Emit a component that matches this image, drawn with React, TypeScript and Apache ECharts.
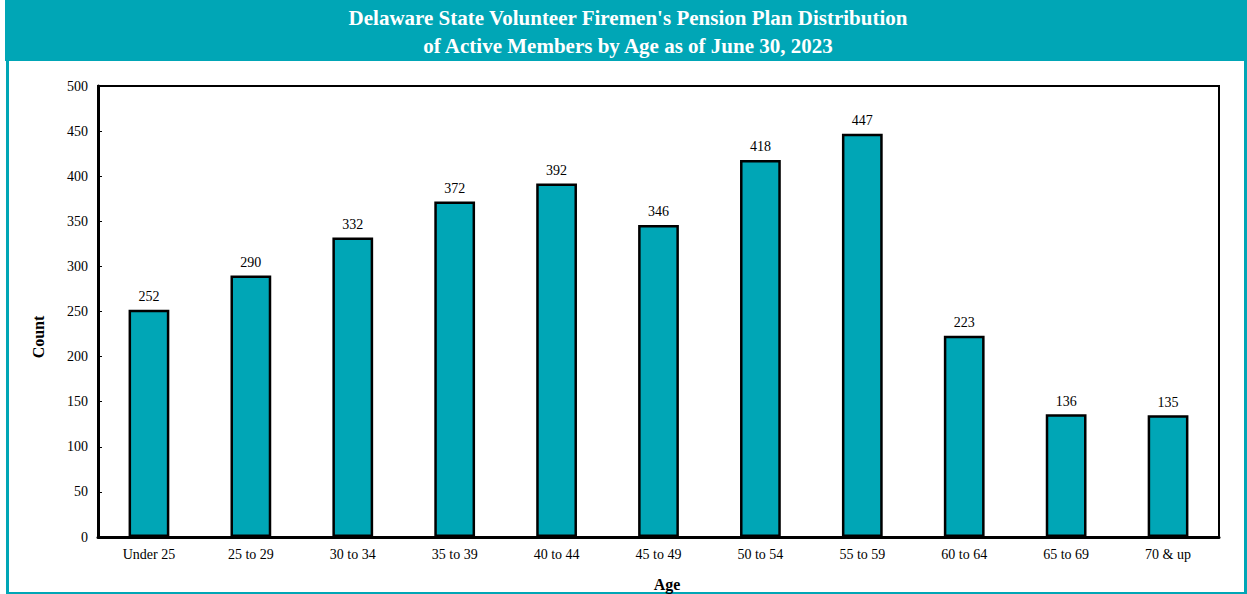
import React, { useEffect, useRef } from "react";
import * as echarts from "echarts";

const categories = ["Under 25", "25 to 29", "30 to 34", "35 to 39", "40 to 44", "45 to 49", "50 to 54", "55 to 59", "60 to 64", "65 to 69", "70 & up"];
const counts = [252, 290, 332, 372, 392, 346, 418, 447, 223, 136, 135];
const titleLines = ["Delaware State Volunteer Firemen's Pension Plan Distribution", "of Active Members by Age as of June 30, 2023"];

const TEAL = "#00A6B6";
const FONT = "'Liberation Serif', 'Times New Roman', serif";

export default function App() {
  const ref = useRef<HTMLDivElement>(null);
  useEffect(() => {
    document.body.style.margin = "0";
    const chart = echarts.init(ref.current!, null, { renderer: "svg" });
    chart.setOption({
      animation: false,
      backgroundColor: "#ffffff",
      graphic: [
        { type: "rect", left: 6, top: 0, shape: { x: 0, y: 0, width: 1238, height: 592 }, style: { fill: "#fff", stroke: TEAL, lineWidth: 3 }, z: -10 },
        { type: "rect", left: 5, top: 0, shape: { x: 0, y: 0, width: 1242, height: 61 }, style: { fill: TEAL }, z: -9 },
        { type: "text", x: 628, y: 18, style: { text: titleLines[0], fill: "#fff", font: `bold 21px ${FONT}`, align: "center", verticalAlign: "middle" } },
        { type: "text", x: 628, y: 46, style: { text: titleLines[1], fill: "#fff", font: `bold 21px ${FONT}`, align: "center", verticalAlign: "middle" } },
        { type: "text", x: 667, y: 584, style: { text: "Age", fill: "#000", font: `bold 16px ${FONT}`, align: "center", verticalAlign: "middle" } },
        { type: "text", x: 38, y: 337, rotation: Math.PI / 2, style: { text: "Count", fill: "#000", font: `bold 16px ${FONT}`, align: "center", verticalAlign: "middle" } },
      ],
      grid: { left: 98, top: 86, width: 1121, height: 451, show: true, borderColor: "#000", borderWidth: 2, backgroundColor: "transparent" },
      xAxis: {
        type: "category",
        data: categories,
        axisLine: { show: true, lineStyle: { color: "#000", width: 3 } },
        axisTick: { show: false },
        axisLabel: { color: "#000", fontFamily: FONT, fontSize: 14, margin: 10 },
      },
      yAxis: {
        type: "value",
        min: 0,
        max: 500,
        interval: 50,
        axisLine: { show: true, lineStyle: { color: "#000", width: 3 } },
        axisTick: { show: true, inside: true, length: 4, lineStyle: { color: "#000" } },
        splitLine: { show: false },
        axisLabel: { color: "#000", fontFamily: FONT, fontSize: 14, margin: 10 },
      },
      series: [
        {
          type: "bar",
          data: counts,
          barWidth: "40%",
          itemStyle: { color: TEAL, borderColor: "#000", borderWidth: 2.5 },
          label: { show: true, position: "top", distance: 6, color: "#000", fontFamily: FONT, fontSize: 14 },
        },
      ],
    });
    return () => chart.dispose();
  }, []);
  return <div ref={ref} style={{ width: 1247, height: 594 }} />;
}
